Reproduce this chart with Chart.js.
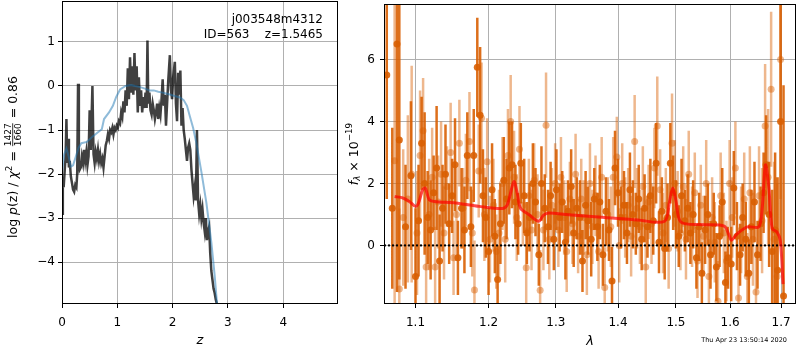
<!DOCTYPE html>
<html>
<head>
<meta charset="utf-8">
<script src="https://cdn.jsdelivr.net/npm/chart.js@4/dist/chart.umd.min.js"></script>
<style>
  body { margin: 0; background: #fff; width: 800px; height: 350px; position: relative; overflow: hidden; }
  #left { position: absolute; left: 0; top: 0; }
  #right { position: absolute; left: 340px; top: 0; }
</style>
</head>
<body>
<canvas id="left" width="340" height="350"></canvas>
<canvas id="right" width="460" height="350"></canvas>
<script>
// ---- left panel: p(z) ----
const zDark = [0.00,0.015,0.03,0.05,0.065,0.08,0.095,0.11,0.125,0.14,0.16,0.18,0.20,0.22,0.24,0.26,0.275,0.29,0.305,0.32,0.34,0.36,0.38,0.40,0.42,0.44,0.46,0.48,0.50,0.52,0.55,0.57,0.59,0.61,0.63,0.65,0.67,0.69,0.71,0.73,0.75,0.77,0.79,0.81,0.83,0.85,0.87,0.89,0.91,0.93,0.95,0.97,0.99,1.01,1.03,1.05,1.07,1.09,1.11,1.13,1.15,1.17,1.19,1.21,1.23,1.25,1.27,1.29,1.31,1.33,1.35,1.37,1.39,1.41,1.43,1.45,1.47,1.49,1.51,1.53,1.545,1.56,1.58,1.60,1.62,1.64,1.66,1.68,1.70,1.72,1.74,1.76,1.78,1.80,1.82,1.84,1.86,1.88,1.90,1.92,1.95,1.97,1.99,2.01,2.04,2.06,2.08,2.10,2.12,2.14,2.16,2.18,2.20,2.22,2.24,2.26,2.28,2.30,2.32,2.34,2.36,2.38,2.40,2.42,2.44,2.46,2.48,2.50,2.52,2.54,2.56,2.58,2.60,2.62,2.64,2.66,2.68,2.70,2.72,2.74,2.76,2.78,2.80,2.82];
const logpDark = [-2.9,-2.1,-2.3,-1.9,-1.6,-0.75,-1.75,-1.2,-1.85,-1.7,-2.05,-2.2,-2.35,-2.4,-2.25,-2.3,-2.0,0.05,-1.7,-1.9,-1.85,-1.6,-1.75,-1.45,-1.7,-1.5,-1.8,-1.6,-0.55,-1.45,0.0,-1.55,-1.75,-1.5,-1.65,-1.45,-1.7,-1.55,-1.75,-1.65,-1.85,-1.6,-1.35,-1.25,-1.1,-1.2,-1.0,-1.05,-0.95,-1.1,-0.95,-1.0,-0.9,-0.95,-0.8,-0.85,-0.6,-0.7,-0.35,-0.6,-0.1,-0.45,0.4,-0.3,0.65,-0.15,0.45,-0.2,0.75,-0.1,0.45,-0.6,0.2,-0.45,-0.1,-0.6,-0.25,-0.5,-0.15,-0.5,1.03,-0.4,-0.15,-0.55,-0.65,-0.4,-0.55,-0.75,-0.6,-0.4,-0.75,-0.5,-0.65,-0.3,0.15,-0.45,-0.2,-0.9,-0.4,0.1,0.7,-0.1,-0.3,0.2,0.55,-0.4,-0.8,0.3,-0.2,0.35,-0.9,-0.5,-1.0,-1.2,-1.45,-1.7,-1.4,-1.3,-1.45,-1.9,-2.2,-2.5,-2.3,-2.6,-1.0,-2.6,-2.9,-2.7,-3.0,-2.8,-3.1,-3.3,-3.0,-3.5,-3.3,-3.2,-3.8,-4.2,-4.4,-4.6,-4.7,-4.85,-4.95,-5.3];
const zSmooth = [0.00,0.04,0.08,0.12,0.16,0.20,0.25,0.30,0.35,0.45,0.55,0.65,0.72,0.76,0.85,0.92,0.98,1.05,1.15,1.25,1.32,1.40,1.50,1.58,1.66,1.74,1.82,1.92,2.02,2.13,2.20,2.26,2.31,2.37,2.43,2.52,2.61,2.70,2.76,2.80,2.83];
const logpSmooth = [-1.95,-1.55,-1.42,-1.6,-1.83,-1.8,-1.6,-1.4,-1.3,-1.27,-1.15,-1.05,-0.98,-0.75,-0.6,-0.45,-0.25,-0.08,0.0,0.02,0.0,-0.02,-0.06,-0.1,-0.1,-0.13,-0.15,-0.18,-0.22,-0.26,-0.32,-0.45,-0.68,-0.95,-1.3,-1.95,-2.65,-3.55,-4.3,-4.9,-5.3];
const zTicks = [0, 1, 2, 3, 4];
const logpTicks = [-4, -3, -2, -1, 0, 1];

// ---- right panel: spectrum ----
const lamA = [1.063,1.070,1.076,1.079,1.087,1.094,1.100,1.104,1.108,1.112,1.116,1.120,1.124,1.128,1.132,1.136,1.140,1.145,1.149,1.153,1.157,1.162,1.166,1.170,1.175,1.179,1.184,1.188,1.192,1.196,1.200,1.205,1.209,1.213,1.217,1.222,1.226,1.230,1.234,1.239,1.243,1.247,1.252,1.256,1.260,1.265,1.269,1.274,1.278,1.283,1.288,1.292,1.297,1.301,1.306,1.310,1.315,1.319,1.324,1.328,1.333,1.338,1.342,1.347,1.351,1.356,1.361,1.366,1.370,1.375,1.380,1.385,1.390,1.395,1.400,1.405,1.410,1.415,1.420,1.425,1.430,1.435,1.440,1.445,1.450,1.455,1.460,1.465,1.470,1.475,1.480,1.485,1.490,1.495,1.500,1.505,1.510,1.516,1.521,1.526,1.531,1.537,1.542,1.547,1.553,1.558,1.563,1.569,1.574,1.580,1.585,1.591,1.596,1.602,1.607,1.613,1.619,1.624,1.630,1.636,1.641,1.647,1.653,1.659,1.665,1.670,1.676,1.682,1.688,1.693,1.699,1.705];
const fluxA = [5.5,1.2,6.5,3.4,0.6,2.25,-1.0,0.8,3.3,2.0,0.9,0.5,1.7,2.5,-0.5,1.2,2.3,0.7,1.6,2.6,-0.4,1.2,0.5,2.9,0.6,2.9,5.75,4.2,1.6,0.9,-0.2,1.8,0.3,-1.1,0.7,2.1,1.5,2.5,2.6,1.4,0.7,2.65,1.6,0.4,0.9,2.0,1.4,-0.3,2.0,1.2,0.6,1.6,0.2,1.8,0.9,1.4,0.1,1.1,1.9,0.4,1.2,0.9,-0.5,1.3,0.8,0.2,1.5,0.6,1.4,-0.3,1.1,0.5,-1.15,2.5,1.7,0.9,1.3,0.4,1.8,1.0,0.7,1.5,0.2,1.2,0.6,1.6,0.8,2.65,0.1,1.1,-0.1,0.9,2.65,1.7,1.0,0.3,1.6,0.8,1.2,0.4,1.0,-0.4,0.6,-0.9,0.5,1.0,-0.3,0.7,-0.7,0.3,1.4,-1.2,-0.4,-0.6,1.85,0.3,-0.3,0.9,0.2,-0.9,0.6,1.4,-0.3,0.7,1.7,2.6,1.0,-0.2,0.5,-0.8,4.0,-1.63];
const errA = [4.0,2.6,8.0,4.5,2.0,2.4,2.2,1.8,1.5,2.3,1.5,1.6,1.2,2.0,1.5,1.4,1.6,1.3,1.2,1.5,1.2,1.3,1.4,1.4,1.3,1.5,1.6,2.2,1.5,1.3,1.4,1.5,1.2,1.1,1.3,1.4,1.3,1.5,1.4,1.2,1.0,1.3,1.2,1.0,1.1,1.3,1.1,1.0,1.2,1.1,1.2,1.1,1.0,1.3,1.1,1.0,1.2,1.0,1.2,1.1,1.0,1.2,1.0,1.1,1.1,1.2,1.0,1.1,1.2,1.0,1.1,1.0,1.1,1.2,1.1,1.0,1.1,1.0,1.2,1.1,1.0,1.1,1.0,1.1,1.0,1.2,1.1,1.3,1.0,1.1,1.0,1.1,1.3,1.2,1.1,1.0,1.2,1.0,1.1,1.0,1.1,1.0,1.1,1.0,1.1,1.0,1.1,1.0,1.1,1.0,1.1,1.0,1.0,1.2,1.2,1.1,1.0,1.1,1.2,1.1,1.2,1.3,1.1,1.2,1.3,1.6,1.7,2.0,2.5,3.0,4.0,6.8];
const lamB = [1.073,1.079,1.084,1.090,1.095,1.102,1.106,1.110,1.114,1.118,1.122,1.126,1.130,1.134,1.138,1.142,1.147,1.151,1.155,1.159,1.164,1.168,1.173,1.177,1.180,1.186,1.190,1.194,1.198,1.202,1.207,1.211,1.215,1.220,1.224,1.228,1.232,1.237,1.241,1.245,1.250,1.255,1.259,1.263,1.267,1.272,1.276,1.281,1.285,1.290,1.294,1.299,1.304,1.308,1.313,1.317,1.322,1.326,1.331,1.335,1.340,1.344,1.349,1.354,1.358,1.363,1.368,1.373,1.378,1.383,1.388,1.392,1.398,1.402,1.407,1.412,1.417,1.422,1.428,1.432,1.437,1.442,1.447,1.452,1.457,1.462,1.467,1.472,1.477,1.482,1.487,1.493,1.498,1.503,1.508,1.513,1.518,1.523,1.529,1.534,1.539,1.545,1.550,1.555,1.560,1.566,1.571,1.577,1.582,1.588,1.593,1.599,1.604,1.610,1.616,1.621,1.627,1.633,1.638,1.644,1.650,1.656,1.662,1.668,1.674,1.680,1.686,1.692,1.699];
const fluxB = [2.73,-1.41,0.9,1.5,2.3,0.4,2.9,3.7,-0.7,1.0,2.2,-0.7,1.4,2.3,0.4,1.9,3.0,-0.4,1.0,3.3,1.2,2.1,3.35,0.4,-1.44,2.4,4.1,1.0,2.7,0.2,1.3,-0.2,0.4,2.0,0.2,2.9,4.0,2.2,0.9,3.1,1.3,-0.72,1.6,0.5,2.1,1.0,-1.45,0.5,3.88,0.2,1.3,2.0,0.5,2.2,0.9,-0.2,1.5,0.7,2.3,0.3,1.5,0.9,-0.3,2.0,0.6,1.6,-0.2,2.2,-1.36,1.0,0.6,2.2,2.85,0.0,2.0,0.9,1.3,0.3,3.35,1.2,0.6,1.9,-0.7,1.4,0.7,2.5,3.85,1.8,0.4,1.3,-0.1,3.3,2.0,1.1,0.4,1.9,0.2,2.3,0.6,1.7,-0.5,1.3,0.3,2.0,-1.0,0.9,0.1,-1.8,1.6,0.4,-0.5,2.0,0.9,2.5,-1.7,0.5,1.5,-1.0,1.7,0.2,-1.5,1.6,0.8,3.85,2.2,5.04,0.2,-1.0,6.0];
const errB = [5.2,2.6,2.2,2.7,3.5,2.0,2.1,1.7,1.5,1.8,1.6,1.3,1.5,1.7,1.5,1.3,1.6,1.2,1.5,1.4,1.3,1.5,1.6,1.4,1.6,1.5,1.8,1.5,1.4,1.4,1.5,1.2,1.4,1.5,1.4,1.5,1.5,1.5,1.4,1.4,1.3,1.3,1.2,1.3,1.2,1.3,1.3,1.3,1.7,1.3,1.2,1.3,1.2,1.3,1.2,1.3,1.2,1.3,1.3,1.2,1.3,1.2,1.3,1.3,1.2,1.3,1.2,1.3,1.3,1.2,1.3,1.3,1.3,1.2,1.3,1.3,1.2,1.3,1.5,1.3,1.2,1.3,1.3,1.2,1.3,1.3,1.6,1.3,1.3,1.2,1.3,1.6,1.4,1.3,1.2,1.3,1.3,1.4,1.3,1.3,1.2,1.3,1.3,1.4,1.2,1.3,1.3,1.3,1.4,1.3,1.3,1.4,1.3,1.5,1.4,1.4,1.5,1.4,1.5,1.5,1.5,1.6,1.7,2.0,2.2,2.5,2.5,3.0,4.5];
const lamModel = [1.073,1.0836,1.092,1.100,1.104,1.1095,1.113,1.118,1.125,1.154,1.1865,1.2197,1.2269,1.2367,1.2415,1.2465,1.2588,1.2738,1.2813,1.289,1.325,1.378,1.4337,1.4798,1.4886,1.4944,1.5002,1.509,1.5515,1.5886,1.598,1.6024,1.6138,1.633,1.6557,1.6622,1.6687,1.6755,1.682,1.692,1.6986,1.704];
const fluxModel = [1.58,1.53,1.42,1.26,1.37,1.8,1.85,1.48,1.42,1.37,1.26,1.19,1.3,2.06,1.7,1.2,1.0,0.78,0.98,1.05,0.98,0.9,0.82,0.78,1.42,1.85,1.42,0.75,0.67,0.62,0.33,0.17,0.38,0.6,0.6,1.2,2.6,1.85,0.55,0.43,0.14,-1.25];
const lamTicks = [1.1, 1.2, 1.3, 1.4, 1.5, 1.6, 1.7];
const fluxTicks = [0, 2, 4, 6];

Chart.defaults.font.family = '"DejaVu Sans", sans-serif';
Chart.defaults.font.size = 12;
Chart.defaults.color = '#000';

function fmtMinus(v) { return v < 0 ? '\u2212' + Math.abs(v) : String(v); }
function pts(xs, ys) { return xs.map((x, i) => ({x: x, y: ys[i]})); }
function errSegments(xs, ys, es) {
  const out = [];
  xs.forEach((x, i) => {
    out.push({x: x, y: ys[i] - es[i]}, {x: x, y: ys[i] + es[i]}, {x: x, y: null});
  });
  return out;
}
function fontOf(size, it) { return (it ? 'italic ' : '') + size + 'px "DejaVu Sans"'; }

// axis title with sub/superscripts and a stacked fraction, rotated
function drawYTitle(ctx, runs, cx, cy, size) {
  ctx.save();
  ctx.translate(cx, cy);
  ctx.rotate(-Math.PI / 2);
  ctx.fillStyle = '#000';
  ctx.textBaseline = 'alphabetic';
  const widths = runs.map(r => {
    if (r.num) {
      ctx.font = fontOf(size * 0.72, false);
      return Math.max(ctx.measureText(r.num).width, ctx.measureText(r.den).width) + 2;
    }
    ctx.font = fontOf(size * (r.s || 1), r.it);
    return ctx.measureText(r.t).width;
  });
  const total = widths.reduce((a, b) => a + b, 0);
  let x = -total / 2;
  const base = size * 0.36;
  runs.forEach((r, i) => {
    if (r.num) {
      const small = size * 0.72;
      ctx.font = fontOf(small, false);
      ctx.textAlign = 'center';
      const mid = x + widths[i] / 2;
      const barY = base - size * 0.3;
      ctx.fillText(r.num, mid, barY - 1.5);
      ctx.fillText(r.den, mid, barY + small * 0.73 + 1.5);
      ctx.fillRect(x + 1, barY - 0.4, widths[i] - 2, 0.8);
      ctx.textAlign = 'left';
    } else {
      ctx.font = fontOf(size * (r.s || 1), r.it);
      ctx.textAlign = 'left';
      ctx.fillText(r.t, x, base + (r.dy || 0) * size);
    }
    x += widths[i];
  });
  ctx.restore();
}

const framePlugin = {
  id: 'frame',
  afterDraw(chart) {
    const a = chart.chartArea, ctx = chart.ctx;
    ctx.save();
    ctx.strokeStyle = '#000';
    ctx.lineWidth = 1;
    ctx.strokeRect(Math.round(a.left) + 0.5, Math.round(a.top) + 0.5, Math.round(a.right - a.left) - 1, Math.round(a.bottom - a.top) - 1);
    ctx.restore();
  }
};

const leftText = {
  id: 'leftText',
  afterDraw(chart) {
    const ctx = chart.ctx;
    ctx.save();
    ctx.fillStyle = '#000';
    ctx.font = fontOf(12, false);
    ctx.textAlign = 'right';
    ctx.textBaseline = 'middle';
    ctx.fillText('j003548m4312', 323, 20);
    ctx.fillText('ID=563    z=1.5465', 323, 34.5);
    ctx.restore();
    drawYTitle(ctx, [
      {t: 'log '}, {t: 'p', it: true}, {t: '(z) / '}, {t: '\u03c7', it: true},
      {t: '2', s: 0.7, dy: -0.4}, {t: ' = '}, {num: '1427', den: '1660'}, {t: ' = 0.86'}
    ], 12, 157, 12.5);
  }
};

const rightText = {
  id: 'rightText',
  afterDraw(chart) {
    const ctx = chart.ctx;
    drawYTitle(ctx, [
      {t: 'f', it: true}, {t: '\u03bb', it: true, s: 0.7, dy: 0.22},
      {t: ' \u00d7 10'}, {t: '\u221219', s: 0.7, dy: -0.42}
    ], 13, 154, 12.5);
    ctx.save();
    ctx.fillStyle = '#000';
    ctx.font = fontOf(6.5, false);
    ctx.textAlign = 'right';
    ctx.textBaseline = 'middle';
    ctx.fillText('Thu Apr 23 13:50:14 2020', 447, 340);
    ctx.restore();
  }
};

const gridCommon = { color: '#b0b0b0', lineWidth: 1, tickColor: '#000', tickLength: 4, drawTicks: true };
function fitX(s) { s.height = 46; s.paddingLeft = 0; s.paddingRight = 0; }
function fitYLeft(s) { s.width = 62; s.paddingTop = 0; s.paddingBottom = 0; }
function fitYRight(s) { s.width = 44; s.paddingTop = 0; s.paddingBottom = 0; }

new Chart(document.getElementById('left'), {
  type: 'scatter',
  data: {
    datasets: [
      { type: 'line', data: pts(zSmooth, logpSmooth), borderColor: 'rgba(31,119,180,0.5)', borderWidth: 2, pointRadius: 0, tension: 0, clip: 0, order: 0 },
      { type: 'line', data: pts(zDark, logpDark), borderColor: 'rgba(0,0,0,0.75)', borderWidth: 2.5, pointRadius: 0, tension: 0, clip: 0, order: 1 }
    ]
  },
  options: {
    responsive: false, animation: false, devicePixelRatio: 1,
    layout: { padding: { left: 0, top: 1, right: 2, bottom: 0 } },
    plugins: { legend: { display: false }, tooltip: { enabled: false } },
    scales: {
      x: {
        type: 'linear', min: 0, max: 4.99,
        afterBuildTicks: s => { s.ticks = zTicks.map(v => ({value: v})); },
        afterFit: fitX,
        grid: gridCommon, border: { display: false },
        ticks: { padding: 8, maxRotation: 0, autoSkip: false, callback: v => fmtMinus(v) },
        title: { display: true, text: 'z', font: { size: 13, style: 'italic' }, padding: { top: 0, bottom: 2 } }
      },
      y: {
        type: 'linear', min: -4.95, max: 1.93,
        afterBuildTicks: s => { s.ticks = logpTicks.map(v => ({value: v})); },
        afterFit: fitYLeft,
        grid: gridCommon, border: { display: false },
        ticks: { padding: 3, autoSkip: false, callback: v => fmtMinus(v) }
      }
    }
  },
  plugins: [framePlugin, leftText]
});

new Chart(document.getElementById('right'), {
  type: 'scatter',
  data: {
    datasets: [
      { type: 'line', data: pts(lamModel, fluxModel), borderColor: 'rgba(255,0,0,0.7)', borderWidth: 3, pointRadius: 0, tension: 0.3, clip: 0, order: 0 },
      { type: 'line', data: [{x: 1.0595, y: 0}, {x: 1.7305, y: 0}], borderColor: '#000', borderWidth: 2, borderDash: [2, 2], pointRadius: 0, clip: 0, order: 1 },
      { type: 'scatter', data: pts(lamA, fluxA), backgroundColor: 'rgba(217,95,2,0.9)', borderWidth: 0, pointRadius: 3.5, clip: 0, order: 2 },
      { type: 'line', data: errSegments(lamA, fluxA, errA), borderColor: 'rgba(217,95,2,0.9)', borderWidth: 2.5, borderCapStyle: 'butt', pointRadius: 0, spanGaps: false, clip: 0, order: 3 },
      { type: 'scatter', data: pts(lamB, fluxB), backgroundColor: 'rgba(217,95,2,0.45)', borderWidth: 0, pointRadius: 3.5, clip: 0, order: 4 },
      { type: 'line', data: errSegments(lamB, fluxB, errB), borderColor: 'rgba(217,95,2,0.45)', borderWidth: 2.5, borderCapStyle: 'butt', pointRadius: 0, spanGaps: false, clip: 0, order: 5 }
    ]
  },
  options: {
    responsive: false, animation: false, devicePixelRatio: 1,
    layout: { padding: { left: 0, top: 1, right: 1, bottom: 0 } },
    plugins: { legend: { display: false }, tooltip: { enabled: false } },
    scales: {
      x: {
        type: 'logarithmic', min: 1.0595, max: 1.7305,
        afterBuildTicks: s => { s.ticks = lamTicks.map(v => ({value: v})); },
        afterFit: fitX,
        grid: gridCommon, border: { display: false },
        ticks: { padding: 8, maxRotation: 0, autoSkip: false, callback: v => Number(v).toFixed(1) },
        title: { display: true, text: '\u03bb', font: { size: 13, style: 'italic' }, padding: { top: 0, bottom: 1 } }
      },
      y: {
        type: 'linear', min: -1.89, max: 7.79,
        afterBuildTicks: s => { s.ticks = fluxTicks.map(v => ({value: v})); },
        afterFit: fitYRight,
        grid: gridCommon, border: { display: false },
        ticks: { padding: 5, autoSkip: false, callback: v => fmtMinus(v) }
      }
    }
  },
  plugins: [framePlugin, rightText]
});
</script>
</body>
</html>
